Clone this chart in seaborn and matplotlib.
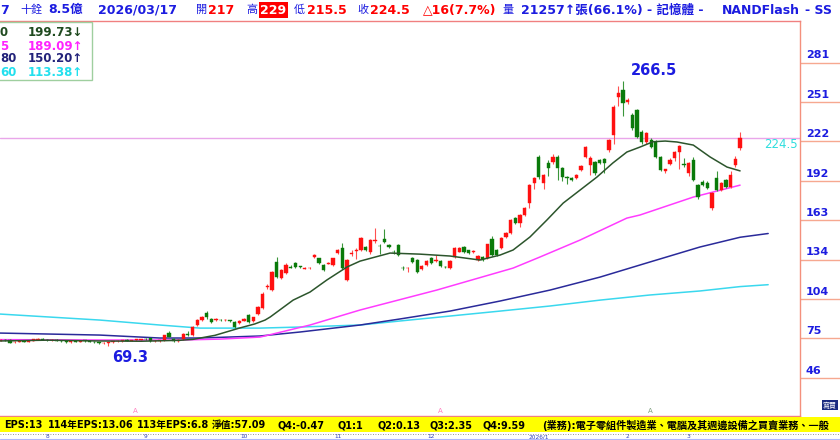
import matplotlib
matplotlib.use("Agg")
import matplotlib.pyplot as plt
import numpy as np
import seaborn as sns
from matplotlib.lines import Line2D
from matplotlib.patches import Rectangle
from matplotlib.transforms import blended_transform_factory

W, H = 840, 440
X0, DX = 0.65, 4.68  # pixel x of the first candle and candle spacing

# daily candles, 2025/07 .. 2026/03/17
opens = [
    73.0, 73.6, 73.5, 71.8, 72.4, 72.8, 72.3, 73.0, 73.8, 74.6,
    73.6, 73.2, 73.5, 73.0, 72.6, 72.0, 72.6, 72.2, 73.0, 72.8,
    72.4, 71.8, 71.0, 71.0, 72.0, 72.6, 73.0, 73.3, 73.0, 73.5,
    73.8, 74.2, 74.8, 72.6, 73.0, 73.5, 78.5, 74.0, 72.5, 74.0,
    78.0, 77.2, 84.7, 88.4, 93.6, 89.1, 88.5, 88.8, 88.2, 88.0,
    86.9, 86.0, 88.0, 92.1, 87.5, 92.8, 97.5, 113.0, 110.8, 131.7,
    119.8, 123.5, 128.3, 131.0, 128.5, 126.8, 127.0, 135.5, 134.5, 129.5,
    130.5, 129.5, 138.5, 142.2, 118.3, 138.0, 140.0, 140.7, 143.0, 139.2,
    147.5, 144.0, 149.0, 144.4, 139.5, 144.4, 127.5, 127.0, 134.8, 133.2,
    126.5, 129.7, 134.8, 132.5, 132.5, 128.0, 127.2, 135.5, 139.5, 142.8,
    140.5, 139.5, 133.2, 135.4, 134.8, 149.0, 140.7, 142.2, 150.5, 153.4,
    164.5, 160.8, 166.8, 175.7, 190.7, 210.1, 190.7, 205.6, 206.3, 210.1,
    201.9, 194.8, 194.1, 194.4, 200.4, 210.1, 204.1, 206.3, 207.8, 208.6,
    215.3, 226.5, 254.8, 260.1, 251.0, 241.4, 245.1, 228.7, 221.3, 222.7,
    221.3, 210.1, 199.8, 205.0, 209.3, 213.8, 205.0, 198.1, 207.8, 189.2,
    191.4, 190.7, 172.0, 194.4, 185.4, 192.9, 187.7, 204.1, 217.0,
]
highs = [
    74.0, 74.2, 74.0, 73.0, 73.2, 73.5, 73.4, 74.5, 75.0, 75.2,
    74.2, 74.0, 74.0, 73.8, 73.4, 73.2, 73.4, 73.3, 73.6, 73.4,
    73.0, 72.4, 72.0, 72.2, 73.0, 73.4, 73.6, 74.0, 73.8, 74.2,
    74.6, 75.0, 75.2, 73.5, 73.8, 77.5, 80.0, 74.8, 74.0, 79.0,
    80.0, 84.0, 89.0, 91.5, 95.5, 90.0, 90.0, 89.5, 89.3, 88.8,
    87.5, 88.6, 90.2, 93.0, 91.0, 98.6, 109.0, 115.0, 125.0, 135.5,
    126.5, 131.0, 129.5, 131.5, 129.0, 128.0, 127.8, 138.0, 135.0, 130.0,
    131.5, 135.0, 141.5, 146.0, 134.0, 141.0, 142.0, 150.5, 144.0, 149.0,
    157.0, 145.0, 156.5, 145.0, 140.5, 145.0, 128.5, 128.0, 135.5, 134.0,
    129.5, 133.5, 135.5, 137.0, 133.5, 128.5, 133.0, 143.0, 142.8, 143.5,
    141.0, 140.5, 137.0, 136.0, 145.5, 151.5, 141.5, 150.5, 154.0, 164.0,
    165.5, 167.5, 173.0, 190.0, 195.0, 211.5, 197.5, 207.5, 212.0, 211.5,
    203.0, 196.0, 195.0, 197.5, 204.0, 218.5, 210.5, 207.0, 208.5, 209.0,
    223.5, 249.0, 263.0, 266.5, 254.0, 243.0, 246.0, 230.0, 229.0, 224.0,
    222.5, 211.0, 201.5, 209.0, 214.5, 219.0, 209.0, 206.5, 210.0, 190.0,
    193.0, 192.0, 184.0, 200.0, 191.5, 194.0, 200.0, 211.0, 229.0,
]
lows = [
    72.5, 72.8, 71.0, 71.2, 71.8, 72.0, 71.8, 72.8, 73.4, 73.2,
    72.8, 72.6, 72.8, 72.2, 71.5, 71.6, 71.8, 71.7, 72.4, 72.0,
    71.4, 70.6, 70.2, 69.3, 71.5, 72.0, 72.4, 72.8, 72.5, 73.0,
    73.2, 73.6, 72.0, 72.0, 72.4, 73.0, 75.5, 72.0, 71.8, 73.8,
    76.5, 76.5, 84.0, 87.5, 89.5, 86.0, 87.8, 87.5, 87.6, 87.0,
    82.5, 85.5, 87.5, 86.2, 87.0, 92.0, 97.0, 111.5, 110.0, 119.5,
    119.0, 122.5, 127.0, 127.5, 127.0, 126.5, 126.5, 135.0, 130.5, 125.0,
    130.0, 129.0, 138.0, 126.5, 117.5, 136.0, 134.0, 140.0, 140.0, 138.0,
    146.0, 138.0, 146.0, 142.0, 138.0, 136.0, 126.0, 124.5, 131.0, 123.5,
    126.0, 129.0, 130.5, 132.0, 128.0, 127.0, 126.5, 135.0, 139.0, 138.5,
    138.0, 138.5, 132.8, 132.5, 134.0, 136.5, 136.0, 141.5, 150.0, 152.5,
    160.0, 158.0, 166.0, 172.0, 186.0, 194.0, 186.0, 196.0, 205.0, 193.0,
    192.0, 190.0, 192.0, 193.5, 199.5, 209.0, 197.0, 197.0, 205.0, 198.0,
    214.0, 220.0, 248.0, 241.0, 250.0, 230.0, 224.0, 220.0, 220.0, 216.5,
    209.5, 199.5, 198.0, 204.0, 207.0, 201.0, 203.0, 196.0, 192.0, 179.0,
    188.5, 186.0, 170.5, 184.5, 184.5, 187.0, 187.0, 203.0, 215.5,
]
closes = [
    73.6, 73.2, 71.6, 72.4, 72.8, 72.3, 73.0, 74.0, 74.6, 73.6,
    73.2, 73.5, 73.0, 72.6, 72.0, 72.8, 72.2, 73.0, 72.8, 72.4,
    71.8, 71.0, 71.6, 72.0, 72.6, 73.0, 73.3, 73.0, 73.5, 73.8,
    74.2, 74.0, 72.6, 73.0, 73.5, 77.0, 75.8, 72.5, 73.5, 78.0,
    77.5, 83.2, 88.4, 90.6, 90.6, 86.9, 89.2, 88.2, 88.6, 87.6,
    83.2, 88.0, 89.5, 86.9, 90.5, 98.0, 107.8, 113.5, 124.3, 120.5,
    125.7, 129.5, 127.6, 128.0, 127.7, 127.5, 127.3, 136.9, 131.0, 125.7,
    131.0, 134.5, 140.7, 127.2, 133.2, 138.8, 140.6, 149.6, 140.8, 148.1,
    148.5, 143.5, 147.0, 142.9, 139.0, 137.0, 127.0, 127.5, 131.7, 124.2,
    128.7, 132.7, 131.0, 133.5, 128.7, 127.8, 132.5, 142.2, 142.0, 139.2,
    138.5, 140.0, 136.2, 133.2, 144.9, 137.0, 136.9, 149.6, 153.4, 163.0,
    160.8, 166.8, 172.0, 189.2, 194.4, 195.1, 196.6, 201.9, 210.1, 201.9,
    195.1, 194.1, 193.0, 196.6, 203.4, 217.5, 209.3, 198.1, 205.6, 205.6,
    222.7, 247.4, 257.8, 250.4, 252.6, 231.7, 225.0, 221.3, 228.0, 217.5,
    210.1, 200.4, 201.0, 208.0, 213.8, 218.3, 204.5, 205.6, 192.9, 180.2,
    189.2, 186.9, 183.2, 185.4, 190.7, 187.7, 196.6, 208.6, 224.5,
]

# moving averages, read at a few candle positions
ma20_x = [-0.2, 10, 21, 30, 38.3, 41.1, 45.8, 51.1, 54.3, 56.5, 57.6, 62.5, 66.1,
          69.7, 74.0, 76.8, 83.2, 89.6, 96.0, 102.4, 106.7, 109.5, 113.1, 116.7,
          120.2, 123.8, 127.4, 130.8, 133.8, 136.6, 139.4, 142.0, 144.5, 148.0,
          151.6, 155.2, 158.0]
ma20_y = [72.8, 73.4, 72.8, 72.6, 73.3, 74.0, 77.0, 82.5, 85.5, 88.4, 90.7, 103.3, 109.3,
          118.3, 128.0, 132.4, 138.4, 137.6, 136.2, 133.2, 136.9, 140.7, 150.4, 163.0,
          175.7, 185.4, 195.1, 205.6, 213.8, 217.5, 221.5, 222.0, 221.3, 219.0,
          210.1, 202.6, 199.73]
ma60_x = [-0.2, 21.2, 38.3, 46.9, 55.4, 57.6, 66.1, 76.8, 93.2, 109.5, 115.2, 123.8,
          133.8, 136.6, 148.0, 158.0]
ma60_y = [73.8, 73.5, 73.5, 74.2, 75.7, 77.5, 84.7, 95.9, 110.8, 127.2, 135.4, 148.1,
          164.5, 166.8, 180.2, 189.09]
slow_x = [-0.2, 21.2, 34.0, 42.6, 55.4, 64.0, 76.8, 85.3, 96.0, 106.7, 117.4, 128.1,
          138.7, 149.4, 158.0, 164.0]
ma120_y = [78.7, 77.2, 75.0, 75.0, 76.5, 79.5, 84.7, 89.2, 95.1, 102.6, 110.8, 120.5,
           131.7, 142.9, 150.20, 153.0]
ma240_y = [92.9, 88.4, 84.7, 82.4, 82.4, 83.2, 84.7, 87.7, 91.4, 95.1, 98.9, 103.3,
           107.1, 110.1, 113.38, 114.8]

ytick_vals = [45.4, 74.8, 104.2, 133.6, 163.0, 192.4, 221.8, 251.2, 280.6]
ytick_text = ["46", "75", "104", "134", "163", "192", "222", "251", "281"]

month_pos = [10, 31, 52, 72, 92, 115, 134, 147]
month_text = ["8", "9", "10", "11", "12", "2026/1", "2", "3"]

legend_left = ["0", "5", "80", "60"]
legend_vals = ["199.73↓", "189.09↑", "150.20↑", "113.38↑"]
legend_colors = ["#1f4a1f", "#ff22ff", "#22227a", "#22e0ee"]

BLUE = "#1c1ce0"
RED = "#ff0000"
# (x pixel, text, colour, is_cjk_only)
header = [
    (0, "7", BLUE, False), (20, "十銓", BLUE, True), (48, "8.5億", BLUE, False),
    (98, "2026/03/17", BLUE, False), (196, "開", BLUE, True), (208, "217", RED, False),
    (246, "高", BLUE, True), (294, "低", BLUE, True), (307, "215.5", RED, False),
    (357, "收", BLUE, True), (370, "224.5", RED, False), (423, "△16(7.7%)", RED, False),
    (502, "量", BLUE, True), (521, "21257↑張(66.1%)", BLUE, False),
    (647, "- 記憶體 -", BLUE, False), (722, "NANDFlash", BLUE, False), (805, "- SS", BLUE, False),
]
# (x pixel, text, font size)
band = [
    (4, "EPS:13", 7), (48, "114年EPS:13.06", 7), (137, "113年EPS:6.8", 7),
    (212, "淨值:57.09", 7), (278, "Q4:-0.47", 7), (338, "Q1:1", 7), (377, "Q2:0.13", 7),
    (430, "Q3:2.35", 7), (483, "Q4:9.59", 7),
    (542, "(業務):電子零組件製造業、電腦及其週邊設備之買賣業務、一般", 7.3),
]


def fx(px):
    return px / W


def fy(py):
    return 1 - py / H


def main() -> None:
    sns.set_theme(style="white")
    plt.rcParams["font.family"] = ["DejaVu Sans", "Noto Sans CJK TC"]

    fig = plt.figure(figsize=(W / 100, H / 100), dpi=100, facecolor="white")
    ax = fig.add_axes([0, fy(416), fx(800), (416 - 21) / H])
    ax.set_facecolor("white")

    idx = np.arange(len(closes))
    o = np.array(opens)
    c = np.array(closes)
    up = c >= o
    body_col = np.where(up, "#ff1010", "#0a7a0a")
    wick_col = np.where(up, "#ff5050", "#3a963a")
    ax.vlines(idx, lows, highs, colors=wick_col, lw=0.8, zorder=2)
    ax.bar(idx, np.maximum(np.abs(c - o), 0.5), bottom=np.minimum(o, c), width=0.7,
           color=body_col, edgecolor=body_col, linewidth=0.3, zorder=3)

    sns.lineplot(x=slow_x, y=ma240_y, ax=ax, color="#3ad8ee", lw=1.1, zorder=1)
    sns.lineplot(x=slow_x, y=ma120_y, ax=ax, color="#2a2a9a", lw=1.1, zorder=1)
    sns.lineplot(x=ma60_x, y=ma60_y, ax=ax, color="#ff3cff", lw=1.1, zorder=1)
    sns.lineplot(x=ma20_x, y=ma20_y, ax=ax, color="#2c552c", lw=1.1, zorder=4)

    last = closes[-1]
    ax.axhline(last, color="#e9a6ea", lw=1.0, zorder=1)
    ax.text(798 / 800, last, f"{last}", transform=blended_transform_factory(ax.transAxes, ax.transData),
            ha="right", va="top", color="#2edede", fontsize=8.5)

    pk = int(np.argmax(highs))
    lo = int(np.argmin(lows))
    ax.text(pk + 6.5, highs[pk] + 8.5, f"{highs[pk]}", ha="center", va="center",
            color=BLUE, fontsize=10.5, fontweight="bold")
    ax.text(lo + 4.7, lows[lo] - 8.5, f"{lows[lo]}", ha="center", va="center",
            color=BLUE, fontsize=10.5, fontweight="bold")

    ax.set_xlim((0 - X0) / DX, (800 - X0) / DX)
    ax.set_ylim(16.8, 311.6)
    ax.set_xticks([])
    ax.yaxis.tick_right()
    ax.set_yticks(ytick_vals)
    ax.tick_params(axis="y", length=29, width=1.0, color="#f6a890", labelright=False,
                   direction="out", right=True)
    ytr = blended_transform_factory(ax.transAxes, ax.transData)
    for v, t in zip(ytick_vals, ytick_text):
        ax.text(806 / 800, v + 1.6, t, transform=ytr, ha="left", va="bottom",
                color=BLUE, fontsize=8, fontweight="bold", clip_on=False)
    ax.spines["left"].set_visible(False)
    for side in ["top", "bottom"]:
        ax.spines[side].set_color("#f08080")
        ax.spines[side].set_linewidth(1.0)
    ax.spines["right"].set_color("#f4907c")
    ax.spines["right"].set_linewidth(1.0)
    ax.grid(False)

    # header line
    for x, t, col, cjk in header:
        fig.text(fx(x), fy(10), t, color=col, fontsize=8 if cjk else 9,
                 fontweight="normal" if cjk else "bold", ha="left", va="center")
    fig.text(fx(260), fy(10), "229", color="white", fontsize=9, fontweight="bold",
             ha="left", va="center",
             bbox=dict(facecolor=RED, edgecolor="none", boxstyle="square,pad=0.12"))

    # moving average legend box
    fig.add_artist(Rectangle((fx(-5), fy(80)), fx(97), (80 - 22) / H, transform=fig.transFigure,
                             facecolor="white", edgecolor="#9fcf9f", lw=1.0))
    for k, (lt, vt, col) in enumerate(zip(legend_left, legend_vals, legend_colors)):
        yy = fy(33 + k * 13)
        fig.text(fx(0), yy, lt, color=col, fontsize=8.5, fontweight="bold", va="center")
        fig.text(fx(28), yy, vt, color=col, fontsize=8.5, fontweight="bold", va="center")

    # small markers above the bottom edge
    for x, col in [(135, "#ff80c0"), (440, "#ff80c0"), (650, "#80a080")]:
        fig.text(fx(x), fy(411), "A", color=col, fontsize=5, ha="center", va="center")
    fig.text(fx(823), fy(405), "寫買", color="white", fontsize=5, ha="left", va="center",
             bbox=dict(facecolor="#1a2a80", edgecolor="none", boxstyle="square,pad=0.2"))

    # yellow info band
    fig.add_artist(Rectangle((0, fy(432)), 1, (432 - 417) / H, transform=fig.transFigure,
                             facecolor="#ffff00", edgecolor="none"))
    for x, t, fs in band:
        fig.text(fx(x), fy(425), t, color="black", fontsize=fs, fontweight="bold",
                 ha="left", va="center")
    fig.add_artist(Line2D([0, 1], [fy(433.5)] * 2, transform=fig.transFigure,
                          color="#777777", lw=0.6, ls=(0, (1, 2))))
    fig.add_artist(Line2D([0, 1], [fy(439)] * 2, transform=fig.transFigure,
                          color="#b0b8ff", lw=0.8))
    mtr = blended_transform_factory(ax.transData, fig.transFigure)
    for p, t in zip(month_pos, month_text):
        ax.text(p, fy(436.5), t, transform=mtr, color="#3040c0", fontsize=4.2,
                ha="center", va="center", clip_on=False)

    fig.savefig("out.png", dpi=100, facecolor="white")
    plt.close(fig)


if __name__ == "__main__":
    main()
